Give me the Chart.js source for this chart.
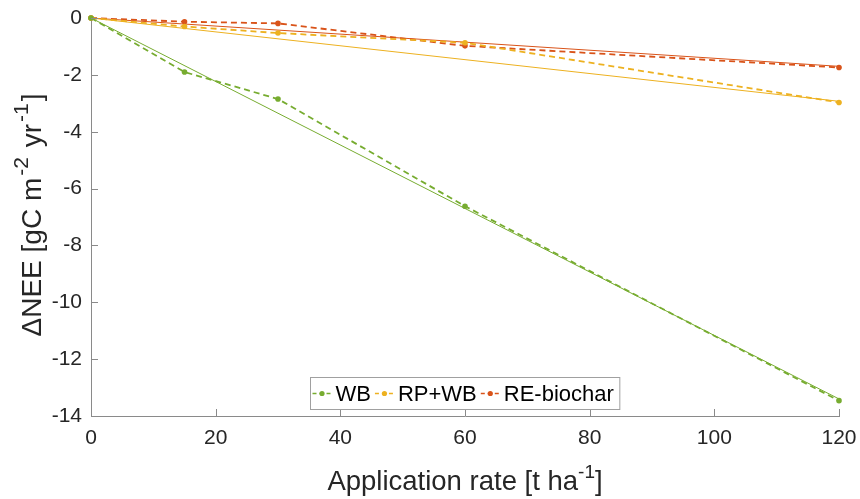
<!DOCTYPE html>
<html>
<head>
<meta charset="utf-8">
<script src="https://cdn.jsdelivr.net/npm/chart.js@4.4.1/dist/chart.umd.min.js"></script>
<style>
html,body{margin:0;padding:0;background:#fff;}
#wrap{width:860px;height:499px;}
</style>
</head>
<body>
<div id="wrap"><canvas id="c" width="860" height="499"></canvas></div>
<script>
// ---- data ----
const xValues = [0, 15, 30, 60, 120];
const wbValues = [0, -1.90, -2.85, -6.62, -13.46];
const rpwbValues = [0, -0.30, -0.53, -0.87, -2.97];
const reBiocharValues = [0, -0.13, -0.19, -0.98, -1.74];
const fitX = [0, 120];
const wbFit = [0, -13.40];
const rpwbFit = [0, -2.93];
const reBiocharFit = [0, -1.70];
const seriesNames = ['WB', 'RP+WB', 'RE-biochar'];
const xTickValues = [0, 20, 40, 60, 80, 100, 120];
const yTickValues = [0, -2, -4, -6, -8, -10, -12, -14];

const colors = ['#77AC30', '#EDB120', '#D95319'];
const FONT = "'Liberation Sans', Arial, sans-serif";

function pts(xs, ys) { return xs.map((x, i) => ({x: x, y: ys[i]})); }

const measured = [wbValues, rpwbValues, reBiocharValues];
const fits = [wbFit, rpwbFit, reBiocharFit];

const datasets = [];
measured.forEach((vals, i) => {
  datasets.push({
    label: seriesNames[i],
    data: pts(xValues, vals),
    showLine: true,
    borderColor: colors[i],
    backgroundColor: colors[i],
    borderWidth: 1.8,
    borderDash: [6, 4],
    pointRadius: 2.8,
    pointBorderWidth: 0,
    pointBackgroundColor: colors[i],
    clip: false
  });
});
fits.forEach((vals, i) => {
  datasets.push({
    label: seriesNames[i] + ' fit',
    data: pts(fitX, vals),
    showLine: true,
    borderColor: colors[i],
    borderWidth: 1,
    pointRadius: 0,
    clip: false
  });
});

function drawRich(ctx, parts, size, supRatio, supRaise, cx, cy) {
  const supSize = Math.round(size * supRatio);
  let total = 0;
  parts.forEach(p => {
    ctx.font = (p.sup ? supSize : size) + 'px ' + FONT;
    p.w = ctx.measureText(p.t).width + (p.gap || 0);
    total += p.w;
  });
  let x = cx - total / 2;
  ctx.textBaseline = 'alphabetic';
  ctx.textAlign = 'left';
  parts.forEach(p => {
    ctx.font = (p.sup ? supSize : size) + 'px ' + FONT;
    ctx.fillText(p.t, x + (p.gap || 0) / 2, p.sup ? cy - size * supRaise : cy);
    x += p.w;
  });
}

const extras = {
  id: 'extras',
  afterDraw(chart) {
    const ctx = chart.ctx;
    const xs = chart.scales.x, ys = chart.scales.y;
    const area = chart.chartArea;
    ctx.save();
    // inward ticks
    ctx.strokeStyle = '#8a8a8a';
    ctx.lineWidth = 1;
    ctx.beginPath();
    xTickValues.forEach(v => {
      const px = Math.round(xs.getPixelForValue(v)) + 0.5;
      ctx.moveTo(px, area.bottom);
      ctx.lineTo(px, area.bottom - 7);
    });
    yTickValues.forEach(v => {
      const py = Math.round(ys.getPixelForValue(v)) + 0.5;
      ctx.moveTo(area.left, py);
      ctx.lineTo(area.left + 7, py);
    });
    ctx.stroke();

    // axis titles
    ctx.fillStyle = '#262626';
    drawRich(ctx, [{t: 'Application rate [t ha'}, {t: '-1', sup: true}, {t: ']'}], 27.5, 0.7, 0.42,
      (area.left + area.right) / 2, 490);
    ctx.save();
    ctx.translate(41, 215);
    ctx.rotate(-Math.PI / 2);
    drawRich(ctx, [{t: '\u0394NEE [gC m'}, {t: '-2', sup: true, gap: 4}, {t: ' yr'}, {t: '-1', sup: true, gap: 4}, {t: ']'}], 28, 0.75, 0.45, 0, 0);
    ctx.restore();

    // legend
    const lf = 22;
    ctx.font = lf + 'px ' + FONT;
    const markerW = 19, gapA = 4, gapB = 4, padL = 2, padR = 6;
    let widths = seriesNames.map(n => ctx.measureText(n).width);
    let total = padL + padR;
    widths.forEach((w, i) => { total += markerW + gapA + w + (i < widths.length - 1 ? gapB : 0); });
    const boxH = 32;
    const boxX = Math.round((area.left + area.right) / 2 - total / 2) + 0.5;
    const boxY = 377.5;
    ctx.fillStyle = '#ffffff';
    ctx.fillRect(boxX, boxY, total, boxH);
    ctx.strokeStyle = '#a0a0a0';
    ctx.lineWidth = 1;
    ctx.strokeRect(boxX, boxY, total, boxH);
    let x = boxX + padL;
    const cy = boxY + boxH / 2;
    seriesNames.forEach((n, i) => {
      ctx.strokeStyle = colors[i];
      ctx.lineWidth = 1.5;
      ctx.setLineDash([4, 3]);
      ctx.beginPath();
      ctx.moveTo(x, cy);
      ctx.lineTo(x + markerW, cy);
      ctx.stroke();
      ctx.setLineDash([]);
      ctx.fillStyle = colors[i];
      ctx.beginPath();
      ctx.arc(x + markerW / 2, cy, 2.6, 0, Math.PI * 2);
      ctx.fill();
      x += markerW + gapA;
      ctx.fillStyle = '#000000';
      ctx.font = lf + 'px ' + FONT;
      ctx.textBaseline = 'middle';
      ctx.textAlign = 'left';
      ctx.fillText(n, x, cy + 1);
      x += widths[i] + gapB;
    });
    ctx.restore();
  }
};

new Chart(document.getElementById('c'), {
  type: 'scatter',
  data: { datasets: datasets },
  options: {
    responsive: false,
    animation: false,
    devicePixelRatio: 1,
    layout: { padding: { top: 18, right: 21, left: 0, bottom: 0 } },
    plugins: { legend: { display: false }, tooltip: { enabled: false } },
    scales: {
      x: {
        type: 'linear', min: 0, max: 120,
        afterBuildTicks: s => { s.ticks = xTickValues.map(v => ({value: v})); },
        afterFit: s => { s.height = 83; s.paddingLeft = 0; s.paddingRight = 0; },
        grid: { display: false },
        border: { display: true, color: '#8a8a8a', width: 1 },
        ticks: { font: { size: 21, family: FONT }, color: '#262626', padding: 2, maxRotation: 0 }
      },
      y: {
        type: 'linear', min: -14, max: 0,
        afterBuildTicks: s => { s.ticks = yTickValues.map(v => ({value: v})); },
        afterFit: s => { s.width = 91; s.paddingTop = 0; s.paddingBottom = 0; },
        grid: { display: false },
        border: { display: true, color: '#8a8a8a', width: 1 },
        ticks: { font: { size: 21, family: FONT }, color: '#262626', padding: 1 }
      }
    }
  },
  plugins: [extras]
});
</script>
</body>
</html>
